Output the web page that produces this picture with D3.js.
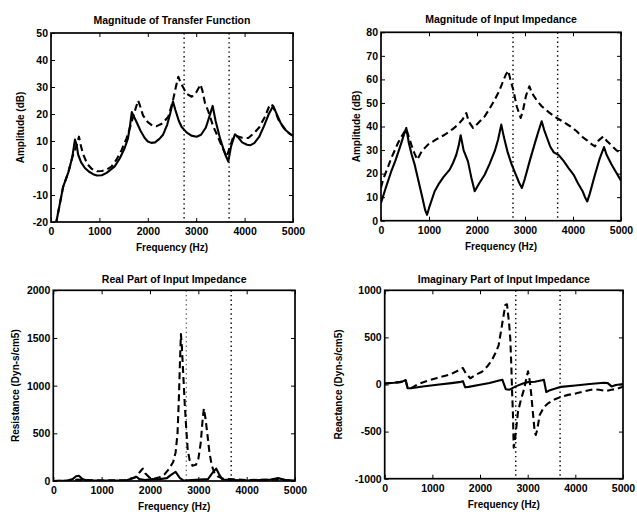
<!DOCTYPE html>
<html>
<head>
<meta charset="utf-8">
<script src="https://cdn.jsdelivr.net/npm/d3@7"></script>
<style>
  body { margin: 0; background: #fff; }
  svg text { font-family: "Liberation Sans", Arial, Helvetica, sans-serif; font-weight: bold; fill: #000; }
</style>
</head>
<body>
<svg id="fig" width="637" height="512"></svg>
<script>
// Frequency axis shared by all four panels
const freqTicks = [0, 1000, 2000, 3000, 4000, 5000];
// Vertical reference frequencies (dotted)
const markerFreqs = [2750, 3680];

// Y tick values
const transferTicks = [-20, -10, 0, 10, 20, 30, 40, 50];
const impedanceTicks = [0, 10, 20, 30, 40, 50, 60, 70, 80];
const resistanceTicks = [0, 500, 1000, 1500, 2000];
const reactanceTicks = [-1000, -500, 0, 500, 1000];

// Magnitude of transfer function (dB), [Hz, dB]
const transferSolid = [
  [0,-29],[110,-20],[250,-7],[360,-1.5],[440,4],[495,10.5],[530,8.5],[560,5],[620,2.2],[700,0],
  [780,-1.3],[870,-2.3],[950,-2.8],[1050,-2.7],[1150,-1.8],[1316,0.6],[1420,3.5],[1523,7.4],
  [1590,11],[1626,14.8],[1670,20.7],[1710,19.2],[1762,17.2],[1850,13.8],[1936,11.1],[2000,9.8],
  [2072,9.3],[2150,9.5],[2240,10.8],[2314,12.3],[2400,16],[2460,20],[2520,24.6],[2570,21.5],
  [2640,17.5],[2700,15.2],[2800,13.2],[2900,12],[3010,11.6],[3100,12.3],[3200,15],[3280,19.5],
  [3340,23],[3400,17.5],[3500,10.5],[3600,5],[3663,2.4],[3720,8],[3800,12.5],[3860,11.5],
  [3950,9.5],[4050,8.6],[4112,8.4],[4200,9.2],[4300,11.5],[4400,15.5],[4500,20],[4590,23],
  [4650,20.5],[4750,16.5],[4850,14],[4950,12.5],[5000,11.9]
];
const transferDashed = [
  [0,-29],[110,-20],[250,-7],[360,-1.5],[440,4],[520,8],[578,11.6],[620,8],[667,5],[750,1.5],
  [840,-0.3],[950,-1.2],[1050,-1.1],[1150,-0.6],[1250,0.5],[1350,3],[1460,6.7],[1560,11],
  [1650,16],[1730,21],[1800,25],[1840,23],[1900,19.5],[2000,17],[2100,15.6],[2183,15.5],
  [2300,16.5],[2424,19],[2520,25],[2580,30],[2630,33.8],[2680,31.5],[2733,29.8],[2800,27.5],
  [2906,26.4],[3000,28],[3090,30.9],[3130,28.5],[3182,24],[3250,21],[3350,15.5],[3450,11.5],
  [3530,8],[3630,4.2],[3700,8],[3767,11.6],[3850,11.8],[3950,11.2],[4077,11.1],[4200,13],
  [4300,15],[4421,19],[4500,22.5],[4559,23.7],[4620,21.5],[4697,18],[4800,15],[4900,13],[5000,12]
];

// Magnitude of input impedance (dB), [Hz, dB]
const impedanceSolid = [
  [0,7.5],[100,14],[215,21],[300,25.5],[390,30.9],[470,36],[527,39.4],[580,33],[640,28],
  [702,23.8],[780,17],[860,10],[920,4.5],[960,2.5],[1010,6],[1118,12.5],[1200,15.5],[1300,18.5],
  [1431,21.7],[1500,24.5],[1569,28],[1620,32],[1660,36.3],[1720,30],[1812,25.2],[1880,18.5],
  [1952,12.5],[2050,16],[2160,19.5],[2260,24],[2369,29.5],[2440,34.5],[2506,40.8],[2560,35.5],
  [2640,29],[2720,24],[2800,20],[2880,16],[2935,13.9],[3000,18],[3100,25.5],[3200,32.5],
  [3280,38],[3348,42.2],[3400,38.5],[3527,31.4],[3600,29],[3694,28],[3800,25.5],[3900,22.5],
  [4014,19.5],[4100,16],[4200,12.5],[4250,10],[4298,8.2],[4350,11.5],[4450,19],[4550,26],
  [4646,31.3],[4700,28],[4800,24],[4900,20.5],[5000,17]
];
const impedanceDashed = [
  [0,14],[42,17.4],[130,22],[215,26.6],[354,33],[450,36.5],[527,39],[580,35.5],[631,32.3],
  [700,28.5],[756,25.9],[850,29.5],[979,32.3],[1150,34.5],[1327,36.5],[1500,39],[1604,40.8],
  [1700,43],[1777,45.7],[1830,42],[1917,39.4],[2000,41],[2160,44.3],[2260,47.5],[2369,51.4],
  [2460,55],[2542,59.2],[2600,62],[2652,63.7],[2700,59.5],[2756,55.6],[2827,48.6],[2910,43.6],
  [2960,47],[3020,53],[3090,57.1],[3150,54],[3250,51],[3348,48.6],[3500,46],[3660,43.6],
  [3800,42],[3950,40],[4077,38],[4200,35.5],[4300,34],[4400,32.3],[4458,31.6],[4530,34],
  [4632,35.8],[4700,34],[4800,32],[4900,30],[5000,28.5]
];

// Real part of input impedance (dyn-s/cm^5), [Hz, value]
const resistanceSolid = [
  [0,0],[300,5],[400,20],[470,50],[530,55],[600,20],[700,5],[1500,5],[1650,30],[1720,45],
  [1780,20],[1900,10],[2050,20],[2150,15],[2350,30],[2450,70],[2530,95],[2620,30],[2700,5],
  [3200,20],[3300,90],[3370,130],[3430,70],[3500,15],[4000,5],[4500,15],[4650,30],[4800,10],[5000,5]
];
const resistanceDashed = [
  [0,0],[400,5],[500,15],[600,10],[1000,5],[1500,10],[1700,40],[1800,100],[1850,130],[1900,80],
  [2000,30],[2100,25],[2200,40],[2300,70],[2400,130],[2480,200],[2530,300],[2570,500],[2600,900],
  [2620,1250],[2640,1540],[2660,1400],[2690,1100],[2720,800],[2750,550],[2780,330],[2820,220],
  [2880,160],[2950,170],[3000,230],[3050,400],[3090,650],[3115,760],[3150,650],[3190,480],
  [3230,300],[3280,160],[3330,90],[3400,50],[3500,25],[4000,10],[4600,15],[5000,5]
];

// Imaginary part of input impedance (dyn-s/cm^5), [Hz, value]
const reactanceSolid = [
  [0,10],[200,18],[350,28],[410,40],[440,48],[480,-40],[550,-40],[800,-22],[1100,-3],[1400,15],
  [1600,28],[1640,35],[1690,-30],[1760,-25],[2000,-3],[2200,15],[2400,42],[2470,50],[2540,-50],
  [2620,-55],[2750,-20],[2900,10],[3000,25],[3150,30],[3300,45],[3340,50],[3390,-80],[3450,-65],
  [3700,-25],[4000,-10],[4300,5],[4600,18],[4680,15],[4760,-20],[4850,-5],[5000,5]
];
const reactanceDashed = [
  [0,10],[200,18],[350,28],[410,40],[440,48],[480,-40],[550,-38],[620,-20],[700,5],[886,37],
  [1100,70],[1376,107],[1550,150],[1640,175],[1700,120],[1796,66],[1900,100],[2042,136],
  [2150,190],[2251,260],[2330,340],[2392,419],[2461,631],[2531,844],[2566,851],[2610,650],
  [2636,480],[2660,150],[2671,-51],[2690,-300],[2707,-670],[2740,-560],[2797,-289],[2866,-146],
  [2930,-40],[2970,60],[3007,140],[3040,50],[3076,-111],[3115,-330],[3147,-501],[3170,-536],
  [3200,-480],[3252,-324],[3340,-240],[3428,-200],[3560,-160],[3705,-130],[3850,-110],[4020,-94],
  [4200,-70],[4371,-51],[4500,-55],[4650,-69],[4760,-55],[4860,-48],[5000,-23]
];

const svg = d3.select("#fig");
svg.append("rect").attr("width", 637).attr("height", 512).attr("fill", "#fff");

const plainNumber = d => (d < 0 ? "-" : "") + String(Math.abs(d));

const panels = [
  { id: "p1", title: "Magnitude of Transfer Function", ylabel: "Amplitude (dB)",
    box: [51, 33, 293, 222], yDomain: [-20, 50], yTicks: transferTicks,
    solid: transferSolid, dashed: transferDashed,
    titleY: 20, xlabelY: 247, ylabelX: 20, markerFaint: false },
  { id: "p2", title: "Magnitude of Input Impedance", ylabel: "Amplitude (dB)",
    box: [381, 32.3, 621, 220.7], yDomain: [0, 80], yTicks: impedanceTicks,
    solid: impedanceSolid, dashed: impedanceDashed,
    titleY: 19, xlabelY: 246.5, ylabelX: 356, markerFaint: false },
  { id: "p3", title: "Real Part of Input Impedance", ylabel: "Resistance (Dyn-s/cm5)",
    box: [53.3, 290.3, 295, 481], yDomain: [0, 2000], yTicks: resistanceTicks,
    solid: resistanceSolid, dashed: resistanceDashed,
    titleY: 279, xlabelY: 506, ylabelX: 15, markerFaint: true },
  { id: "p4", title: "Imaginary Part of Input Impedance", ylabel: "Reactance (Dyn-s/cm5)",
    box: [384.7, 290.3, 623, 478.7], yDomain: [-1000, 1000], yTicks: reactanceTicks,
    solid: reactanceSolid, dashed: reactanceDashed,
    titleY: 278.5, xlabelY: 504.5, ylabelX: 338.5, markerFaint: false }
];

panels.forEach(p => {
  const [l, t, r, b] = p.box;
  const x = d3.scaleLinear().domain([0, 5000]).range([l, r]);
  const y = d3.scaleLinear().domain(p.yDomain).range([b, t]);
  const g = svg.append("g");

  g.append("clipPath").attr("id", "clip-" + p.id)
    .append("rect").attr("x", l).attr("y", t).attr("width", r - l).attr("height", b - t);

  // dotted vertical markers
  markerFreqs.forEach((f, i) => {
    g.append("line")
      .attr("x1", x(f)).attr("x2", x(f)).attr("y1", t).attr("y2", b)
      .attr("stroke", "#000")
      .attr("stroke-width", (p.markerFaint && i === 0) ? 0.8 : 1.4)
      .attr("stroke-dasharray", "1.4,3.2");
  });

  const line = d3.line().x(d => x(d[0])).y(d => y(d[1]));
  const plot = g.append("g").attr("clip-path", `url(#clip-${p.id})`);
  plot.append("path").datum(p.dashed).attr("d", line)
    .attr("fill", "none").attr("stroke", "#000").attr("stroke-width", 2.1)
    .attr("stroke-dasharray", "7,4").attr("stroke-linejoin", "round");
  plot.append("path").datum(p.solid).attr("d", line)
    .attr("fill", "none").attr("stroke", "#000").attr("stroke-width", 2.1)
    .attr("stroke-linejoin", "round");

  // axes with inward ticks on all four sides
  const axB = g.append("g").attr("transform", `translate(0,${b})`)
    .call(d3.axisBottom(x).tickValues(freqTicks).tickSizeInner(-4).tickSizeOuter(0)
      .tickPadding(6).tickFormat(plainNumber));
  const axT = g.append("g").attr("transform", `translate(0,${t})`)
    .call(d3.axisTop(x).tickValues(freqTicks).tickSizeInner(-4).tickSizeOuter(0).tickFormat(""));
  const axL = g.append("g").attr("transform", `translate(${l},0)`)
    .call(d3.axisLeft(y).tickValues(p.yTicks).tickSizeInner(-4).tickSizeOuter(0).tickPadding(3)
      .tickFormat(plainNumber));
  const axR = g.append("g").attr("transform", `translate(${r},0)`)
    .call(d3.axisRight(y).tickValues(p.yTicks).tickSizeInner(-4).tickSizeOuter(0).tickFormat(""));
  [axB, axT, axL, axR].forEach(a => {
    a.select(".domain").remove();
    a.selectAll("line").attr("stroke", "#000").attr("stroke-width", 1);
    a.selectAll("text").style("font-size", "10.5px").style("font-weight", "bold")
      .style("font-family", '"Liberation Sans", Arial, sans-serif');
  });

  // frame
  g.append("rect").attr("x", l).attr("y", t).attr("width", r - l).attr("height", b - t)
    .attr("fill", "none").attr("stroke", "#000").attr("stroke-width", 1.7);

  // titles and labels
  g.append("text").attr("x", (l + r) / 2).attr("y", p.titleY)
    .attr("text-anchor", "middle").attr("dominant-baseline", "central")
    .style("font-size", "10.5px").text(p.title);
  g.append("text").attr("x", (l + r) / 2).attr("y", p.xlabelY)
    .attr("text-anchor", "middle").attr("dominant-baseline", "central")
    .style("font-size", "10px").text("Frequency (Hz)");
  g.append("text")
    .attr("transform", `translate(${p.ylabelX},${(t + b) / 2}) rotate(-90)`)
    .attr("text-anchor", "middle").attr("dominant-baseline", "central")
    .style("font-size", "10px").text(p.ylabel);
});
</script>
</body>
</html>
